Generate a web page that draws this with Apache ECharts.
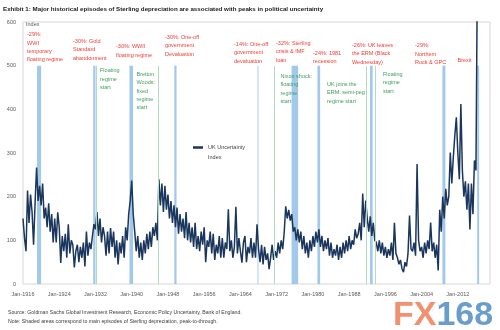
<!DOCTYPE html>
<html><head><meta charset="utf-8">
<script src="https://cdn.jsdelivr.net/npm/echarts@6/dist/echarts.min.js"></script>
<style>html,body{margin:0;padding:0;background:#fff}#c{width:500px;height:330px}</style>
</head><body><div id="c"></div>
<script>
const startYear = 1916;
const pointsPerYear = 3;
// UK Uncertainty Index (3 readings per year from Jan-1916)
const uncertainty = [
150,105,75, 214,140,205, 165,90,185, 267,190,225, 180,230,150,
175,130,185, 120,160,95, 150,95,164, 130,48,110, 75,115,60,
137,70,100, 90,38,75, 90,50,85, 60,95,40, 120,65,95,
80,110,137, 125,165,110, 150,95,130, 110,65,120, 70,128,85,
120,60,100, 45,95,70, 110,60,130, 100,160,190, 237,160,120,
75,110,60, 95,55,100, 70,115,80, 120,85,130, 110,140,100,
240,180,230, 165,225,170, 205,150,190, 140,180,130, 175,115,160,
120,150,105, 165,100,140, 95,130,85, 140,80,110, 75,120,90,
130,50,100, 85,120,70, 115,55,90, 70,110,60, 105,60,95,
80,171,75, 100,60,85, 177,70,105, 75,49,95, 110,50,85,
70,105,60, 95,60,137, 80,50,90, 45,85,55, 70,34,60,
90,55,75, 60,95,70, 100,80,118, 178,150,170, 145,160,120,
130,100,125, 95,120,80, 110,70,95, 60,100,75, 110,85,120,
95,125,85, 110,75,100, 80,105,65, 95,60,80, 65,90,55,
85,60,95, 70,100,75, 110,80,100, 90,125,105, 115,140,100,
207,130,191, 150,120,155, 110,140,100, 95,75,100, 70,95,65,
85,60,80, 65,95,55, 140,70,60, 45,55,35, 27,50,40,
70,157,80, 75,95,65, 275,100,75, 85,60,95, 70,100,80,
141,75,95, 60,90,31, 170,120,200, 150,218,180, 200,301,230,
290,340,382, 300,240,412, 260,200,235, 170,230,125, 230,160,283,
260,750
];
const xTickYears = [1916,1924,1932,1940,1948,1956,1964,1972,1980,1988,1996,2004,2012];
const yTicks = [0,100,200,300,400,500,600];
const depreciationBands = [[1919.1,1920.0],[1931.5,1932.0],[1939.5,1940.3],[1949.4,1949.9],[1975.3,1976.75],[1981.0,1981.6],[1992.6,1993.2],[2008.6,2009.25],[2016.27,2016.7]];
const paleBands = [[1967.7,1968.05]];
const regimeStarts = [1932.1,1945.75,1971.45,1991.85,1993.7];
const bandTop = 500;

const seriesData = uncertainty.map((v,i)=>[i/pointsPerYear, v]);
const bandData = depreciationBands.map(b=>[{xAxis:b[0]-startYear,yAxis:0},{xAxis:b[1]-startYear,yAxis:bandTop}])
  .concat(paleBands.map(b=>[{xAxis:b[0]-startYear,yAxis:0,itemStyle:{color:'#c9e0f4'}},{xAxis:b[1]-startYear,yAxis:bandTop}]));
const lineData = regimeStarts.map(y=>[{coord:[y-startYear,0]},{coord:[y-startYear,bandTop]}]);

const FONT = '"Liberation Sans", Arial, sans-serif';
const red = '#f03a33', green = '#3f9e5c';
function t(text, left, top, color, size, extra){
  return Object.assign({type:'text', left:left, top:top, z:50, silent:true,
    style:{text:text, fill:color, font:(size||5.5)+'px '+FONT, lineHeight:8.4}}, extra||{});
}

const chart = echarts.init(document.getElementById('c'), null, {renderer:'canvas'});
chart.setOption({
  animation:false,
  backgroundColor:'#fff',
  grid:{left:23, right:10, top:22, bottom:46, show:true, borderColor:'#d6d6d6', borderWidth:1},
  xAxis:{type:'value', min:0, max:103.1, interval:8,
    axisLine:{show:false}, axisTick:{show:false}, splitLine:{show:false},
    axisLabel:{fontSize:5.5, color:'#595959', fontFamily:FONT, margin:7, showMaxLabel:false,
      formatter:v=>{const y=Math.round(startYear+v); return xTickYears.indexOf(y)>=0 && Math.abs(startYear+v-y)<1e-6 ? 'Jan-'+y : '';}}},
  yAxis:{type:'value', min:yTicks[0], max:yTicks[yTicks.length-1], interval:100,
    axisLine:{show:false}, axisTick:{show:false}, splitLine:{show:false},
    axisLabel:{fontSize:5.5, color:'#595959', fontFamily:FONT, margin:7}},
  legend:{data:['UK Uncertainty Index'], left:193, top:144.5, padding:0, icon:'rect', itemWidth:10, itemHeight:2.5,
    textStyle:{fontSize:5.5, color:'#404040', fontFamily:FONT},
    formatter:()=>'UK Uncertainty'},
  series:[
    {name:'bands', type:'line', data:[], z:1, silent:true,
      markArea:{silent:true, itemStyle:{color:'#a2c8ea'}, data:bandData},
      markLine:{silent:true, symbol:['none','none'], label:{show:false}, lineStyle:{color:'#b2dcc0', width:1, type:'solid'}, data:lineData}},
    {name:'UK Uncertainty Index', type:'line', data:seriesData, z:3, showSymbol:false, symbol:'none',
      lineStyle:{color:'#1b365d', width:1.5}, itemStyle:{color:'#1b365d'}, clip:true}
  ],
  graphic:[
    t('', 3, 6, '#1a1a1a', 6.2, {style:{text:'Exhibit 1: Major historical episodes of Sterling depreciation are associated with peaks in political uncertainty', fill:'#1a1a1a', font:'bold 6.2px '+FONT}}),
    t('Index', 26, 20.5, '#595959', 5.5),
    t('Index', 208, 153, '#404040', 5.5),
    t('-29%:\nWWI\ntemporary\nfloating regime', 27, 30.5, red),
    t('-30%: Gold\nStandard\nabandonment', 73, 37, red),
    t('-30%: WWII\nfloating regime', 116, 42.5, red),
    t('-30%. One-off\ngovernment\nDevaluation', 165, 33, red),
    t('-14%: One-off\ngovernment\ndevaluation', 234, 40, red),
    t('-32%: Sterling\ncrisis & IMF\nloan', 276, 39, red),
    t('-24%: 1981\nrecession', 313, 49, red),
    t('-26%: UK leaves\nthe ERM (Black\nWednesday)', 352, 41, red),
    t('-29%:\nNorthern\nRock & GPC', 415, 41.5, red),
    t('Brexit', 457.5, 56, red),
    t('Floating\nregime\nstart', 100, 66.5, green),
    t('Bretton\nWoods:\nfixed\nregime\nstart', 136.5, 70, green),
    t('Nixon shock:\nfloating\nregime\nstart', 280.5, 72, green),
    t('UK joins the\nERM: semi-peg\nregime start', 327, 80, green),
    t('Floating\nregime\nstart', 383, 70, green),
    t('Source: Goldman Sachs Global Investment Research, Economic Policy Uncertainty, Bank of England.', 8, 308.5, '#404040', 5.2),
    t('Note: Shaded areas correspond to main episodes of Sterling depreciation, peak-to-through.', 8, 317.5, '#404040', 5.2),
    {type:'text', left:393, top:299, z:50, silent:true,
      style:{text:'{a|FX}{b|168}', rich:{a:{fill:'#f2916f', font:'bold 34px '+FONT}, b:{fill:'#6b9dcc', font:'bold 34px '+FONT}}}}
  ]
});
</script></body></html>
